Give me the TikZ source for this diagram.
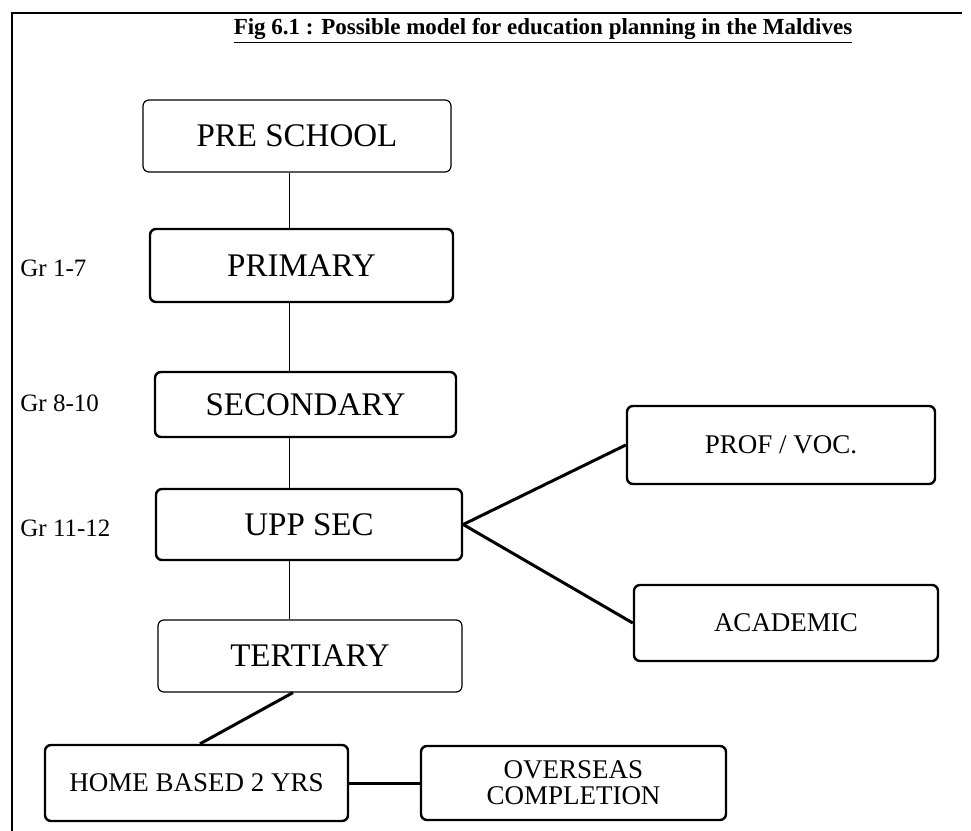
\documentclass[tikz,border=0pt]{standalone}
\usepackage{fontspec}
\setmainfont{Liberation Serif}
\begin{document}
\begin{tikzpicture}[x=0.5pt, y=-0.5pt,
  stagebox/.style 2 args={draw=black, line width=1.2pt, rounded corners=3pt, inner sep=0pt, align=center, minimum width=#1, minimum height=#2},
  lightbox/.style={line width=0.6pt},
  bigtext/.style={font=\fontsize{16.5}{18}\selectfont},
  smalltext/.style={font=\fontsize{13.5}{15}\selectfont},
  gradetext/.style={anchor=west, inner sep=0pt, font=\fontsize{12.5}{14}\selectfont},
  thinlink/.style={-, line width=0.5pt, draw=black},
  thicklink/.style={-, line width=1.5pt, draw=black}]
\useasboundingbox (0,0) rectangle (971,831);
% frame and title
\draw[line width=1pt] (12,831) -- (12,13) -- (962,13);
\node[font=\fontsize{11.5}{13}\selectfont\bfseries] (title) at (543,31) {\underline{Fig 6.1 : Possible model for education planning in the Maldives}};
% main column
\node[stagebox={154pt}{36pt}, lightbox, bigtext] (pre) at (297,136) {PRE SCHOOL};
\node[stagebox={151.5pt}{36.5pt}, bigtext] (prim) at (301.5,265.5) {PRIMARY};
\node[stagebox={150.5pt}{32.5pt}, bigtext] (sec) at (305.5,404.5) {SECONDARY};
\node[stagebox={153pt}{35.5pt}, bigtext] (upp) at (309,524.5) {UPP SEC};
\node[stagebox={152pt}{36pt}, lightbox, bigtext] (ter) at (310,656) {TERTIARY};
% branches
\node[stagebox={154pt}{39pt}, smalltext] (prof) at (781,445) {PROF / VOC.};
\node[stagebox={152pt}{38pt}, smalltext] (acad) at (786,623) {ACADEMIC};
\node[stagebox={151.5pt}{38pt}, smalltext] (home) at (196.5,783) {HOME BASED 2 YRS};
\node[stagebox={152.5pt}{37pt}, smalltext] (over) at (573.5,783) {OVERSEAS\\[-2pt]COMPLETION};
% grade labels
\node[gradetext] (g1) at (20,268) {Gr 1-7};
\node[gradetext] (g2) at (20,403) {Gr 8-10};
\node[gradetext] (g3) at (20,528) {Gr 11-12};
% links
\coordinate (axis) at (289,0);
\path [thinlink] (pre.south -| axis) edge (prim.north -| axis);
\path [thinlink] (prim.south -| axis) edge (sec.north -| axis);
\path [thinlink] (sec.south -| axis) edge (upp.north -| axis);
\path [thinlink] (upp.south -| axis) edge (ter.north -| axis);
\path [thicklink] (upp.east) edge (prof.west);
\path [thicklink] (upp.east) edge (acad.west);
\path [thicklink] ([xshift=-8.5pt]ter.south) edge ([xshift=1.75pt]home.north);
\path [thicklink] (home.east) edge (over.west);
\end{tikzpicture}
\end{document}
